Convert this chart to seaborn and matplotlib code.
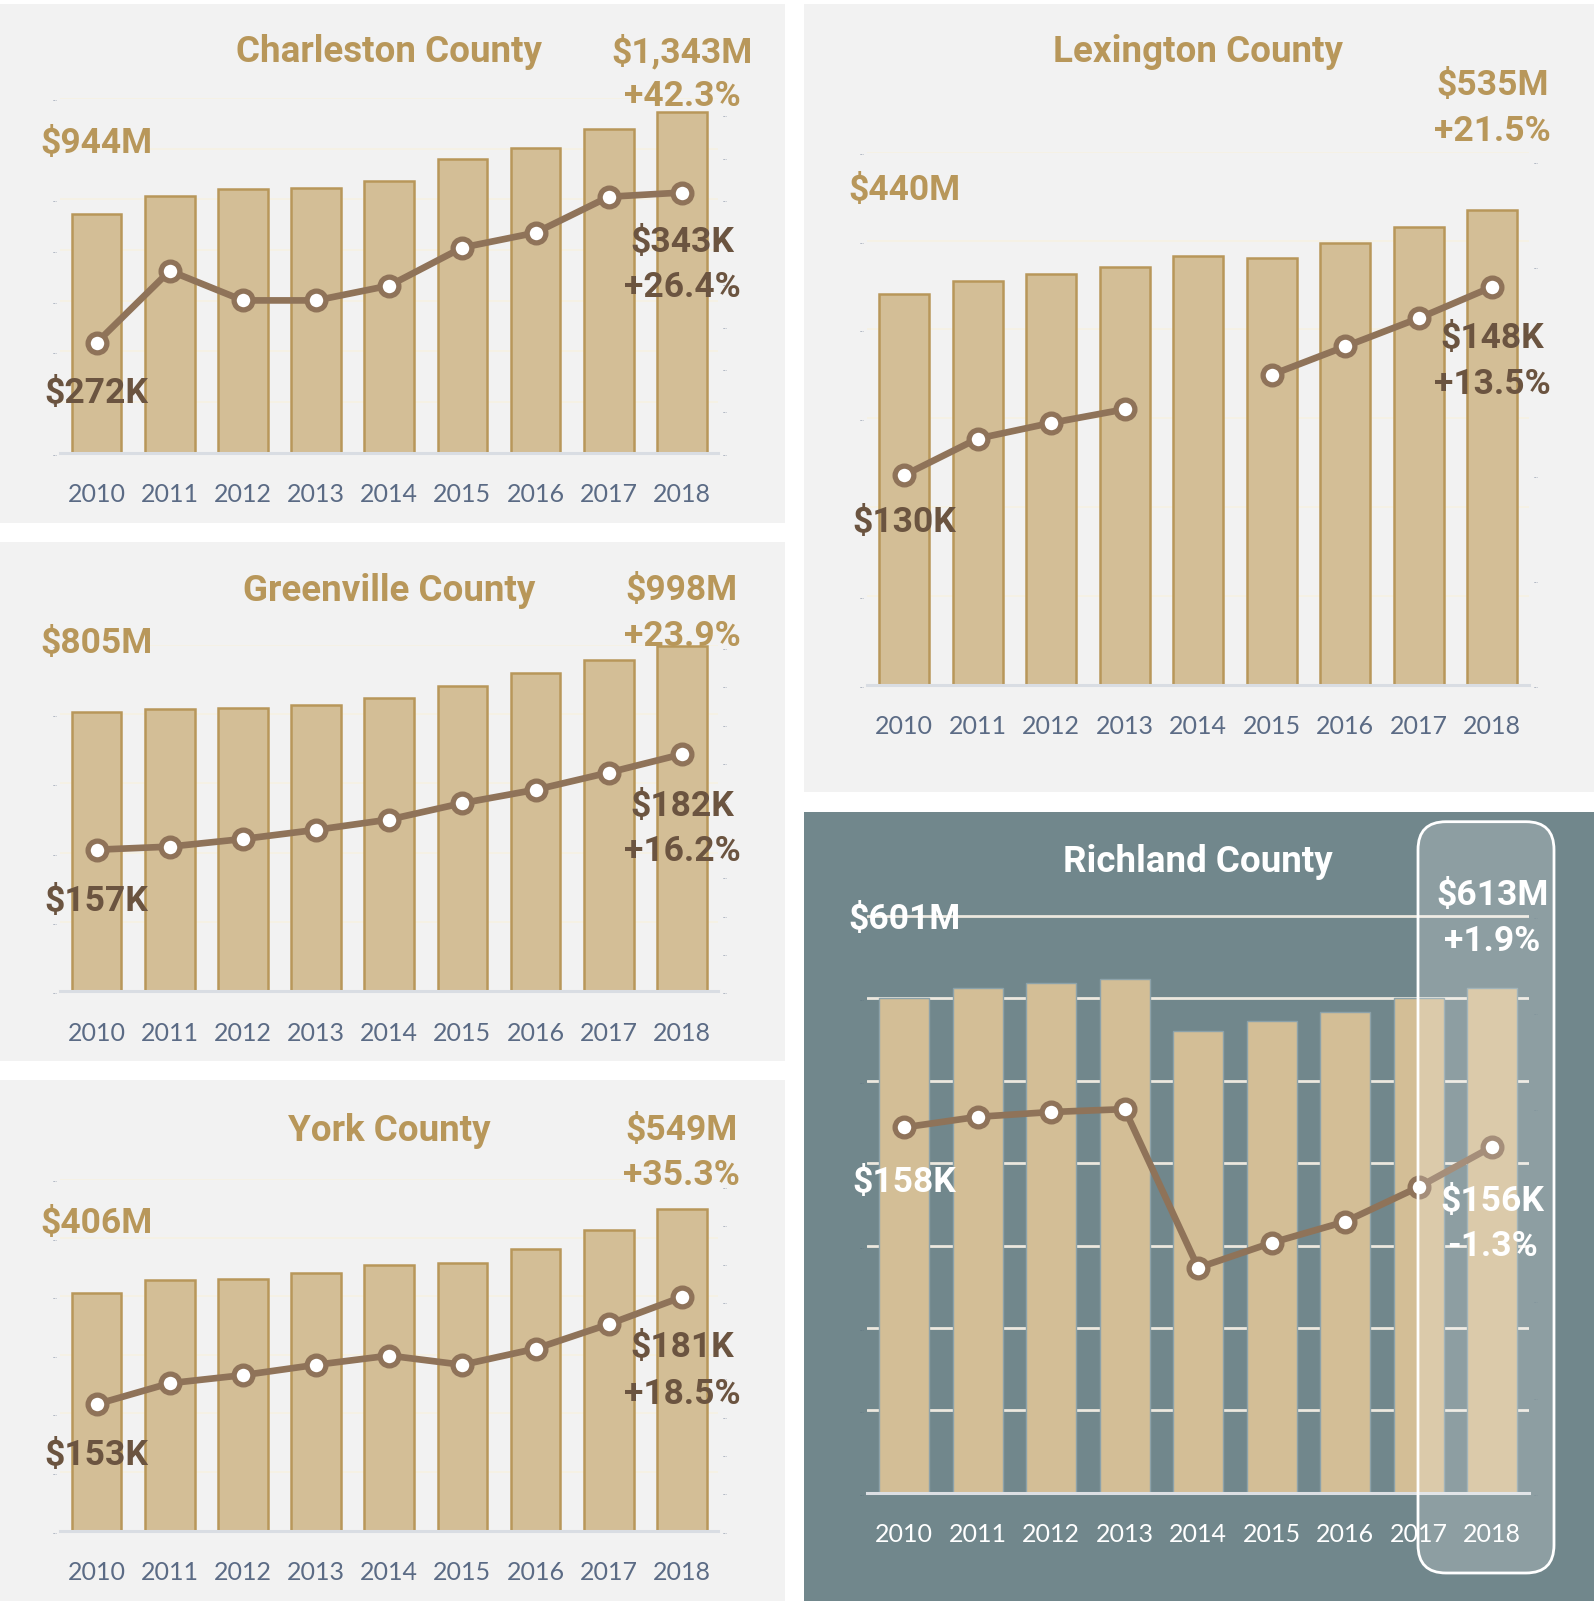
import numpy as np
import pandas as pd
import matplotlib
matplotlib.use("Agg")
import matplotlib.pyplot as plt
import seaborn as sns
from matplotlib.patches import Rectangle, FancyBboxPatch
from matplotlib.transforms import IdentityTransform

sns.set_style("white")
plt.rcParams['font.family'] = ['Lato', 'DejaVu Sans']
BOLD_FAMILY = ['Roboto', 'Lato', 'DejaVu Sans']

# ---------------- data ----------------
years = [2010, 2011, 2012, 2013, 2014, 2015, 2016, 2017, 2018]
year_labels = [str(y) for y in years]

charleston_sales = [943, 1012, 1040, 1044, 1072, 1161, 1201, 1278, 1343]
charleston_price = [272, 306, 292, 292, 299, 317, 324, 341, 343]
greenville_sales = [805, 814, 817, 826, 847, 882, 918, 956, 998]
greenville_price = [157, 157.8, 159.8, 162.2, 164.9, 169.2, 172.7, 177.2, 182]
york_sales = [406, 427, 430, 439, 453, 457, 481, 513, 549]
york_price = [153, 158.5, 160.6, 163.3, 165.7, 163.3, 167.5, 173.9, 181]
lexington_sales = [440, 454, 462, 470, 483, 480, 497, 515, 535]
lexington_price = [130, 133.5, 135, 136.3, np.nan, 139.6, 142.3, 145, 148]
richland_sales = [601, 612, 619, 624, 560, 572, 583, 601, 613]
richland_price = [158, 159.1, 159.6, 159.9, 143.4, 146.0, 148.2, 151.8, 156]

titles = ['Charleston County', 'Greenville County', 'York County',
          'Lexington County', 'Richland County']
sales_first_labels = ['$944M', '$805M', '$406M', '$440M', '$601M']
sales_last_labels = ['$1,343M', '$998M', '$549M', '$535M', '$613M']
sales_change_labels = ['+42.3%', '+23.9%', '+35.3%', '+21.5%', '+1.9%']
price_first_labels = ['$272K', '$157K', '$153K', '$130K', '$158K']
price_last_labels = ['$343K', '$182K', '$181K', '$148K', '$156K']
price_change_labels = ['+26.4%', '+16.2%', '+18.5%', '+13.5%', '-1.3%']

sales_series = [charleston_sales, greenville_sales, york_sales, lexington_sales, richland_sales]
price_series = [charleston_price, greenville_price, york_price, lexington_price, richland_price]

left_ticks = [list(range(0, 1401, 200)), list(range(0, 1001, 200)), list(range(0, 601, 100)),
              list(range(0, 601, 100)), list(range(0, 701, 100))]
right_ticks = [list(range(220, 381, 20)), list(range(120, 211, 10)), list(range(120, 211, 10)),
               list(range(110, 161, 10)), list(range(120, 181, 10))]

# ---------------- layout (pixels, y from top) ----------------
W, H = 1594, 1601
layout = [
    dict(panel=(0, 4, 785, 522.7), ax=(60, 98, 718.5, 452.7), ylim=(0, 1400), ylim2=(220, 387.7),
         title=(389, 48), ys=(140, 48, 93, 390, 239, 284), dark=False),
    dict(panel=(0, 542, 785, 1061), ax=(60, 645, 718.5, 991), ylim=(0, 1000), ylim2=(120, 210.6),
         title=(389, 587), ys=(640, 587, 633, 898, 802.7, 847.7), dark=False),
    dict(panel=(0, 1080, 785, 1601), ax=(60, 1179, 718.5, 1530.7), ylim=(0, 600), ylim2=(120, 211.8),
         title=(389, 1127), ys=(1220, 1127, 1172, 1452, 1343.6, 1390.6), dark=False),
    dict(panel=(804, 4, 1594, 791.7), ax=(867.3, 151.8, 1529, 684.6), ylim=(0, 600), ylim2=(110, 160.9),
         title=(1198, 48), ys=(187, 82, 128, 519, 335, 381), dark=False),
    dict(panel=(804, 812, 1594, 1601), ax=(867.3, 914, 1529, 1492.7), ylim=(0, 702.4), ylim2=(120, 180.2),
         title=(1198, 858), ys=(916, 891.6, 937.6, 1179, 1198.4, 1243.4), dark=True),
]

LIGHT_BG = '#f2f2f2'
DARK_BG = '#71878c'
BAR_FILL = '#d3be96'
BAR_EDGE = '#b8975a'
GOLD = '#b8975a'
BROWN_TXT = '#6b5440'
LINE_C = '#8f7359'
XLAB = '#5b6b85'

fig = plt.figure(figsize=(W / 100, H / 100), dpi=100)
fig.patch.set_facecolor('white')


def fy(y):
    return 1 - y / H


for i in range(5):
    L = layout[i]
    dark = L['dark']
    x0, y0, x1, y1 = L['panel']
    fig.add_artist(Rectangle((x0 / W, fy(y1)), (x1 - x0) / W, (y1 - y0) / H,
                             transform=fig.transFigure, facecolor=DARK_BG if dark else LIGHT_BG,
                             edgecolor='none', zorder=-10))
    ax0, ay0, ax1, ay1 = L['ax']
    ax = fig.add_axes([ax0 / W, fy(ay1), (ax1 - ax0) / W, (ay1 - ay0) / H])
    ax.set_facecolor('none')

    df = pd.DataFrame({'pos': np.arange(9), 'sales': sales_series[i]})
    sns.barplot(data=df, x='pos', y='sales', ax=ax, color=BAR_FILL, saturation=1,
                edgecolor='#8ca2aa' if dark else BAR_EDGE, linewidth=1.0 if dark else 1.8,
                width=0.68, errorbar=None, zorder=2)
    ax.set_ylim(*L['ylim'])
    ax.set_yticks(left_ticks[i])
    ax.set_yticklabels(['...'] * len(left_ticks[i]))
    ax.tick_params(axis='y', length=0, labelsize=5, pad=2,
                   labelcolor='#627883' if dark else '#97a0b0')
    ax.set_xticks(range(9))
    ax.set_xticklabels(year_labels)
    ax.tick_params(axis='x', length=0, pad=22, labelsize=18,
                   labelcolor='white' if dark else XLAB)
    ax.set_xlabel('')
    ax.set_ylabel('')
    for s in ['top', 'left', 'right']:
        ax.spines[s].set_visible(False)
    ax.spines['bottom'].set_color('#dcdfe3' if dark else '#d9dde3')
    ax.spines['bottom'].set_linewidth(2.2)
    ax.set_axisbelow(True)
    if dark:
        ax.yaxis.grid(True, color='#ece8df', linewidth=2)
    else:
        ax.yaxis.grid(True, color='#f6f1e3', linewidth=1.2)
    ax.xaxis.grid(False)

    ax2 = ax.twinx()
    ax2.set_facecolor('none')
    pr = np.array(price_series[i], dtype=float)
    idx = np.arange(9)
    valid = ~np.isnan(pr)
    # split into contiguous segments (gap where data is missing)
    segs = []
    cur = []
    for k in range(9):
        if valid[k]:
            cur.append(k)
        elif cur:
            segs.append(cur)
            cur = []
    if cur:
        segs.append(cur)
    for seg in segs:
        sns.lineplot(x=idx[seg], y=pr[seg], ax=ax2, color=LINE_C, linewidth=4.8,
                     marker='o', markersize=13.5, markerfacecolor='white',
                     markeredgecolor=LINE_C, markeredgewidth=3.8, zorder=3)
    ax2.set_ylim(*L['ylim2'])
    ax2.set_yticks(right_ticks[i])
    ax2.set_yticklabels(['...'] * len(right_ticks[i]))
    ax2.tick_params(axis='y', length=0, labelsize=5, pad=3,
                    labelcolor='#627883' if dark else '#97a0b0')
    ax2.set_ylabel('')
    ax2.grid(False)
    for s in ['top', 'left', 'right', 'bottom']:
        ax2.spines[s].set_visible(False)
    ax.set_xlim(-0.5, 8.5)

    # texts
    tcol = 'white' if dark else GOLD
    pcol = 'white' if dark else BROWN_TXT
    fig.text(L['title'][0] / W, fy(L['title'][1]), titles[i], ha='center', va='center_baseline',
             fontsize=26.5, fontweight='bold', color=tcol, family=BOLD_FAMILY)
    ys = L['ys']
    common = dict(xycoords=('data', 'figure fraction'), ha='center', va='center_baseline',
                  fontsize=25.5, fontweight='bold', zorder=6, family=BOLD_FAMILY)
    ax.annotate(sales_first_labels[i], xy=(0, fy(ys[0])), color=tcol, **common)
    ax.annotate(sales_last_labels[i], xy=(8, fy(ys[1])), color=tcol, **common)
    ax.annotate(sales_change_labels[i], xy=(8, fy(ys[2])), color=tcol, **common)
    ax2.annotate(price_first_labels[i], xy=(0, fy(ys[3])), color=pcol, **common)
    ax2.annotate(price_last_labels[i], xy=(8, fy(ys[4])), color=pcol, **common)
    ax2.annotate(price_change_labels[i], xy=(8, fy(ys[5])), color=pcol, **common)

# highlight box around Richland 2018
hx0, hy0, hx1, hy1 = 1418, 821.7, 1554, 1573
fig.add_artist(FancyBboxPatch((hx0, H - hy1), hx1 - hx0, hy1 - hy0,
                              boxstyle='round,pad=0,rounding_size=28',
                              transform=IdentityTransform(), facecolor=(1, 1, 1, 0.2),
                              edgecolor='white', linewidth=2, zorder=5))

fig.savefig('out.png', dpi=100, facecolor='white')
